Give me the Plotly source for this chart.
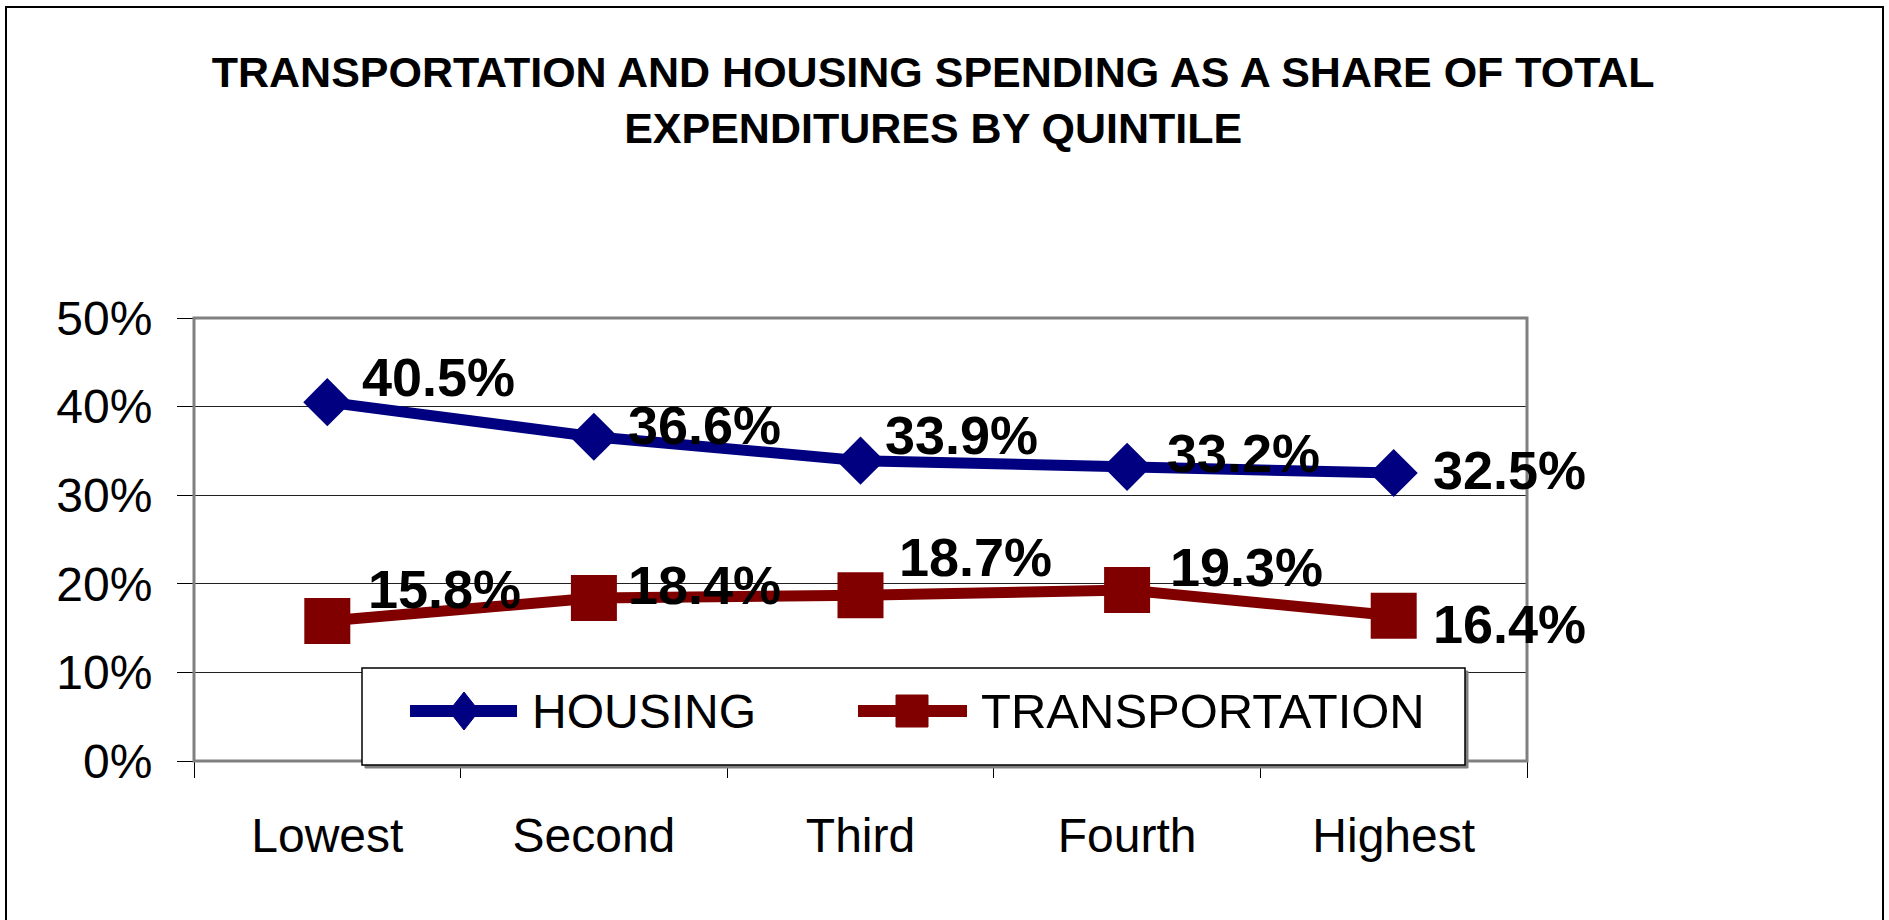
import plotly.graph_objects as go

# ---- data ----
categories = ["Lowest", "Second", "Third", "Fourth", "Highest"]
housing = [0.405, 0.366, 0.339, 0.332, 0.325]
transportation = [0.158, 0.184, 0.187, 0.193, 0.164]
y_ticks = [0, 0.1, 0.2, 0.3, 0.4, 0.5]
title_lines = ["TRANSPORTATION AND HOUSING SPENDING AS A SHARE OF TOTAL",
               "EXPENDITURES BY QUINTILE"]

# ---- style / layout constants ----
W, H = 1889, 920
PL, PR, PT, PB = 194, 1527, 318, 761          # plot area in pixels
NAVY = "#000080"
MAROON = "#800000"
FONT = "Liberation Sans, Arial, Helvetica, sans-serif"

# label offsets (pixels) for data labels: (xshift, yshift)
housing_offsets = [(33, 25), (32, 12), (22, 26), (38, 14), (37, 3)]
transport_offsets = [(39, 32), (32, 13), (36, 38), (41, 23), (37, -8)]


def px(x):
    return (x - PL) / (PR - PL)


def py(y):
    return (PB - y) / (PB - PT)


fig = go.Figure()
fig.add_trace(go.Scatter(
    x=categories, y=housing, name="HOUSING", mode="lines+markers",
    line=dict(color=NAVY, width=11),
    marker=dict(symbol="diamond", size=37, color=NAVY),
    showlegend=False, hoverinfo="x+y",
))
fig.add_trace(go.Scatter(
    x=categories, y=transportation, name="TRANSPORTATION", mode="lines+markers",
    line=dict(color=MAROON, width=11),
    marker=dict(symbol="square", size=46, color=MAROON),
    showlegend=False, hoverinfo="x+y",
))

annotations = []
for series, offs in ((housing, housing_offsets), (transportation, transport_offsets)):
    for c, v, (dx, dy) in zip(categories, series, offs):
        annotations.append(dict(
            x=c, y=v, xref="x", yref="y", text=f"{v*100:.1f}%",
            showarrow=False, xanchor="left", yanchor="middle",
            xshift=dx, yshift=dy,
            font=dict(family=FONT, size=54, color="black", weight="bold"),
        ))

shapes = []
# outer chart border
shapes.append(dict(type="rect", xref="paper", yref="paper",
                   x0=px(6), x1=px(1883), y0=py(940), y1=py(7),
                   line=dict(color="black", width=2), fillcolor="rgba(0,0,0,0)",
                   layer="above"))
# plot area border
shapes.append(dict(type="rect", xref="paper", yref="paper",
                   x0=0, x1=1, y0=0, y1=1,
                   line=dict(color="#808080", width=3), fillcolor="rgba(0,0,0,0)",
                   layer="above"))
# legend box
LX0, LX1, LY0, LY1 = 362, 1465, 668, 765
shapes.append(dict(type="rect", xref="paper", yref="paper",
                   x0=px(LX0 + 3), x1=px(LX1 + 3), y0=py(LY1 + 3), y1=py(LY0 + 3),
                   line=dict(color="#808080", width=1), fillcolor="#808080",
                   layer="above"))
shapes.append(dict(type="rect", xref="paper", yref="paper",
                   x0=px(LX0), x1=px(LX1), y0=py(LY1), y1=py(LY0),
                   line=dict(color="black", width=1.5), fillcolor="white",
                   layer="above"))
LEG_Y = 711
# housing legend entry
shapes.append(dict(type="line", xref="paper", yref="paper",
                   x0=px(410), x1=px(517), y0=py(LEG_Y), y1=py(LEG_Y),
                   line=dict(color=NAVY, width=12), layer="above"))
cx, hw, hh = 464, 15, 19
shapes.append(dict(type="path", xref="paper", yref="paper",
                   path=(f"M {px(cx - hw)},{py(LEG_Y)} L {px(cx)},{py(LEG_Y - hh)} "
                         f"L {px(cx + hw)},{py(LEG_Y)} L {px(cx)},{py(LEG_Y + hh)} Z"),
                   line=dict(color=NAVY, width=1), fillcolor=NAVY, layer="above"))
# transportation legend entry
shapes.append(dict(type="line", xref="paper", yref="paper",
                   x0=px(858), x1=px(967), y0=py(LEG_Y), y1=py(LEG_Y),
                   line=dict(color=MAROON, width=12), layer="above"))
cx, hs = 912, 16
shapes.append(dict(type="rect", xref="paper", yref="paper",
                   x0=px(cx - hs), x1=px(cx + hs), y0=py(LEG_Y + hs), y1=py(LEG_Y - hs),
                   line=dict(color=MAROON, width=1), fillcolor=MAROON, layer="above"))

for name, xl, fs in (("HOUSING", 530, 48), ("TRANSPORTATION", 979, 49)):
    annotations.append(dict(
        x=px(xl), y=py(LEG_Y), xref="paper", yref="paper", text=name,
        showarrow=False, xanchor="left", yanchor="middle",
        font=dict(family=FONT, size=fs, color="black"),
    ))

fig.update_layout(
    width=W, height=H,
    margin=dict(l=PL, r=W - PR, t=PT, b=H - PB, pad=0, autoexpand=False),
    paper_bgcolor="white", plot_bgcolor="white",
    title=dict(text="<br>".join(title_lines), x=0.494, xanchor="center",
               y=1 - 87 / H, yanchor="middle",
               font=dict(family=FONT, size=43, color="black", weight="bold")),
    xaxis=dict(type="category", range=[-0.5, 4.5], tickson="boundaries",
               ticks="outside", ticklen=16, tickwidth=1, tickcolor="black",
               showgrid=False, showline=False, zeroline=False,
               ticklabelstandoff=42,
               tickfont=dict(family=FONT, size=48, color="black")),
    yaxis=dict(range=[0, 0.5], tickvals=y_ticks, tickformat=".0%",
               ticks="outside", ticklen=16, tickwidth=1, tickcolor="black",
               showgrid=True, gridcolor="#202020", gridwidth=1.2,
               showline=False, zeroline=False, ticklabelstandoff=15,
               tickfont=dict(family=FONT, size=48, color="black")),
    annotations=annotations,
    shapes=shapes,
    showlegend=False,
)

fig.write_html("out.html",
               config={"displayModeBar": False},
               post_script="document.body.style.margin='0';document.body.style.overflow='hidden';")
